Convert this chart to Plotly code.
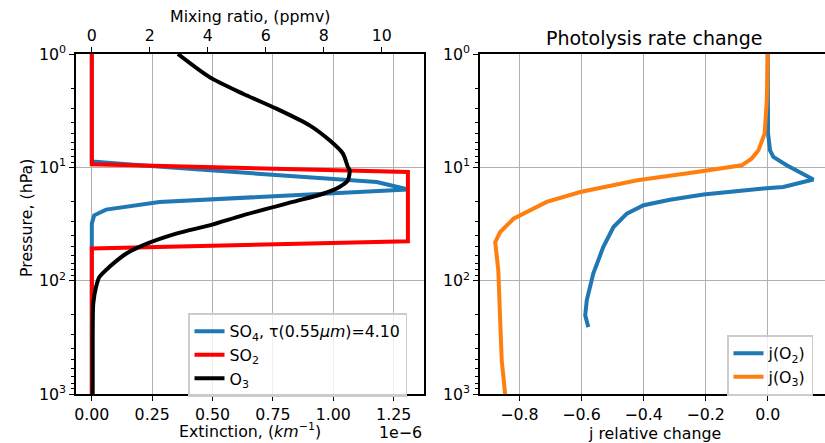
import plotly.graph_objects as go

# ---------------- data ----------------
# Left panel: SO4 extinction (units of 1e-6 km^-1) vs pressure (hPa)
p_so4 = [1, 8.9, 9.6, 10.7, 12.2, 13.5, 15.7, 17.3, 20.2, 23.6, 26.5, 31.4, 1000]
so4_ext = [0, 0, 0.2, 0.5, 0.9, 1.18, 1.31, 0.9, 0.28, 0.059, 0.01, 0, 0]

# SO2 mixing ratio (ppmv)
p_so2 = [1, 9.4, 11.0, 45, 52, 1000]
so2_mr = [0, 0, 10.9, 10.9, 0, 0]

# O3 mixing ratio (ppmv)
p_o3 = [1, 1.6, 2.24, 3.03, 4.26, 5.78, 7.57, 9.94, 10.6, 13.0, 14.9, 17.1, 20.2,
        26.5, 32.5, 38.5, 48.8, 57.8, 75.9, 92.9, 114, 159, 316, 1000]
o3_mr = [2.97, 4.06, 5.21, 6.36, 7.51, 8.2, 8.66, 8.83, 8.89, 8.83, 8.54, 7.97, 6.93,
         5.21, 4.06, 2.91, 1.76, 1.18, 0.6, 0.26, 0.145, 0.05, 0.03, 0.03]

# Right panel: photolysis rate relative change
p_jo2 = [1, 5.0, 7.08, 8.1, 9.6, 11.0, 12.8, 14.9, 15.4, 17.4, 19.3, 21.6, 25.6,
         33.6, 50.5, 86.7, 149, 202, 257]
jo2 = [0.0, 0.001, 0.0074, 0.018, 0.061, 0.104, 0.147, 0.05, -0.014, -0.207, -0.315,
       -0.4, -0.454, -0.497, -0.53, -0.562, -0.583, -0.588, -0.578]

p_jo3 = [1, 2.56, 5.04, 7.08, 8.38, 9.6, 11.0, 13.0, 16.5, 20.2, 28.4, 37.2, 45.6,
         81, 224, 505, 1000]
jo3 = [0.0, -0.003, -0.01, -0.03, -0.052, -0.084, -0.229, -0.42, -0.604, -0.712,
       -0.819, -0.862, -0.878, -0.868, -0.862, -0.857, -0.846]

ext_ticks = [0, 0.25, 0.5, 0.75, 1.0, 1.25]
ext_ticktext = ["0.00", "0.25", "0.50", "0.75", "1.00", "1.25"]
mr_ticks = [0, 2, 4, 6, 8, 10]
j_ticks = [-0.8, -0.6, -0.4, -0.2, 0.0]
j_ticktext = ["\u22120.8", "\u22120.6", "\u22120.4", "\u22120.2", "0.0"]
p_ticks = [1, 10, 100, 1000]
p_ticktext = ["10<sup>0</sup>", "10<sup>1</sup>", "10<sup>2</sup>", "10<sup>3</sup>"]
p_minor = [m * 10 ** k for k in range(3) for m in range(2, 10)]

# ---------------- layout helpers ----------------
W, H = 825, 443
def px(x):
    return x / W
def py(y):
    return 1 - y / H

FONT = "DejaVu Sans"
FS = 15.8
GRID = "#b0b0b0"

fig = go.Figure()

fig.add_trace(go.Scatter(x=so4_ext, y=p_so4, mode="lines", xaxis="x", yaxis="y",
                         line=dict(color="#1f77b4", width=4),
                         name="SO<sub>4</sub>, \u03c4(0.55<i>\u03bcm</i>)=4.10",
                         legend="legend"))
fig.add_trace(go.Scatter(x=so2_mr, y=p_so2, mode="lines", xaxis="x3", yaxis="y",
                         line=dict(color="#ff0000", width=4),
                         name="SO<sub>2</sub>", legend="legend"))
fig.add_trace(go.Scatter(x=o3_mr, y=p_o3, mode="lines", xaxis="x3", yaxis="y",
                         line=dict(color="#000000", width=4, shape="spline", smoothing=0.7),
                         name="O<sub>3</sub>", legend="legend"))

fig.add_trace(go.Scatter(x=jo2, y=p_jo2, mode="lines", xaxis="x2", yaxis="y2",
                         line=dict(color="#1f77b4", width=4),
                         name="j(O<sub>2</sub>)", legend="legend2"))
fig.add_trace(go.Scatter(x=jo3, y=p_jo3, mode="lines", xaxis="x2", yaxis="y2",
                         line=dict(color="#ff7f0e", width=4),
                         name="j(O<sub>3</sub>)", legend="legend2"))

yaxis_common = dict(
    type="log", range=[3, 0], tickmode="array", tickvals=p_ticks, ticktext=p_ticktext,
    ticks="outside", ticklen=5, tickwidth=1.2, tickcolor="black",
    showgrid=True, gridcolor=GRID, gridwidth=1.4,
    showline=True, linecolor="black", linewidth=1.6,
    minor=dict(tickmode="array", tickvals=p_minor, ticks="outside", ticklen=3,
               tickwidth=1, tickcolor="black", showgrid=False),
    zeroline=False, automargin=False,
    tickfont=dict(family=FONT, size=FS, color="black"),
)

fig.update_layout(
    width=W, height=H,
    margin=dict(l=0, r=0, t=0, b=0),
    paper_bgcolor="white", plot_bgcolor="white",
    font=dict(family=FONT, size=FS, color="black"),
    showlegend=True,
    xaxis=dict(domain=[px(76), px(424)], anchor="y", range=[-0.0655, 1.3755],
               tickmode="array", tickvals=ext_ticks, ticktext=ext_ticktext,
               ticks="outside", ticklen=5, tickwidth=1.2, tickcolor="black",
               showgrid=True, gridcolor=GRID, gridwidth=1.4,
               showline=True, linecolor="black", linewidth=1.6, mirror=False,
               zeroline=False, automargin=False,
               tickfont=dict(family=FONT, size=FS, color="black")),
    xaxis3=dict(overlaying="x", side="top", anchor="y", range=[-0.545, 11.455],
                tickmode="array", tickvals=mr_ticks,
                ticks="outside", ticklen=5, tickwidth=1.2, tickcolor="black",
                showgrid=False, showline=True, linecolor="black", linewidth=1.6,
                zeroline=False, automargin=False,
                tickfont=dict(family=FONT, size=FS, color="black")),
    yaxis=dict(domain=[py(394), py(54)], anchor="x", mirror=True, **yaxis_common),
    xaxis2=dict(domain=[px(480), 1.0], anchor="y2", range=[-0.927, 0.1845],
                tickmode="array", tickvals=j_ticks, ticktext=j_ticktext,
                ticks="outside", ticklen=5, tickwidth=1.2, tickcolor="black",
                showgrid=True, gridcolor=GRID, gridwidth=1.4,
                showline=True, linecolor="black", linewidth=1.6, mirror=True,
                zeroline=False, automargin=False,
                tickfont=dict(family=FONT, size=FS, color="black")),
    yaxis2=dict(domain=[py(394), py(54)], anchor="x2", mirror=False, **yaxis_common),
    legend=dict(x=px(188), y=py(313), xanchor="left", yanchor="top",
                bgcolor="rgba(255,255,255,0.8)", bordercolor="#cccccc", borderwidth=1.5,
                font=dict(family=FONT, size=FS, color="black"),
                tracegroupgap=0, itemwidth=30),
    legend2=dict(x=px(727), y=py(335), xanchor="left", yanchor="top",
                 bgcolor="rgba(255,255,255,0.8)", bordercolor="#cccccc", borderwidth=1.5,
                 font=dict(family=FONT, size=FS, color="black"),
                 tracegroupgap=0, itemwidth=30),
    annotations=[
        dict(text="Mixing ratio, (ppmv)", x=px(250), y=py(17), xref="paper", yref="paper",
             showarrow=False, xanchor="center", yanchor="middle",
             font=dict(family=FONT, size=FS, color="black")),
        dict(text="Extinction, (<i>km</i><sup>\u22121</sup>)", x=px(250), y=py(443),
             xref="paper", yref="paper", showarrow=False, xanchor="center", yanchor="bottom",
             yshift=0, font=dict(family=FONT, size=FS, color="black")),
        dict(text="1e\u22126", x=px(424), y=py(432), xref="paper", yref="paper",
             showarrow=False, xanchor="right", yanchor="middle",
             font=dict(family=FONT, size=FS, color="black")),
        dict(text="Pressure, (hPa)", x=px(26), y=py(218), xref="paper", yref="paper",
             showarrow=False, xanchor="center", yanchor="middle", textangle=-90,
             font=dict(family=FONT, size=FS, color="black")),
        dict(text="j relative change", x=px(654), y=py(433), xref="paper", yref="paper",
             showarrow=False, xanchor="center", yanchor="middle",
             font=dict(family=FONT, size=FS, color="black")),
        dict(text="Photolysis rate change", x=px(654), y=py(38), xref="paper", yref="paper",
             showarrow=False, xanchor="center", yanchor="middle",
             font=dict(family=FONT, size=19, color="black")),
    ],
)

fig.write_html("out.html", config={"displayModeBar": False},
               post_script="document.body.style.margin='0';document.body.style.overflow='hidden';")
